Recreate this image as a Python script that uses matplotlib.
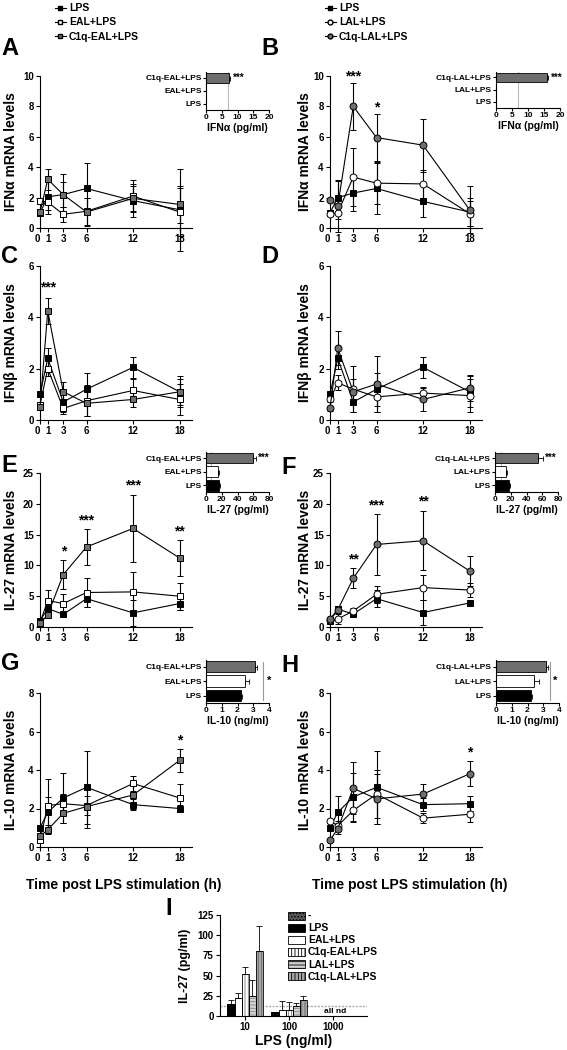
"""Time courses of IFN/IL-27/IL-10 mRNA after LPS, with cytokine insets."""

import numpy as np
import matplotlib.pyplot as plt
from matplotlib.lines import Line2D
from matplotlib.patches import Patch
from matplotlib.transforms import ScaledTranslation

plt.rcParams['font.family'] = ['Liberation Sans', 'DejaVu Sans']
plt.rcParams['font.weight'] = 'bold'
plt.rcParams['axes.labelweight'] = 'bold'
plt.rcParams['hatch.linewidth'] = 0.6
plt.rcParams['axes.linewidth'] = 0.8

W, H = 567, 1050
GREY = '#6e6e6e'

hours = [0, 1, 3, 6, 12, 18]

# panel A / B : IFNa mRNA
a_lps = [1.0, 2.05, 2.2, 2.6, 1.8, 1.2]
a_lps_err = [0.2, 1.1, 1.35, 1.65, 1.1, 2.7]
a_eal = [1.8, 1.7, 0.9, 1.1, 2.1, 1.05]
a_eal_err = [0.2, 0.5, 0.5, 0.9, 1.05, 1.6]
a_c1q = [1.05, 3.2, 2.2, 1.05, 1.95, 1.55]
a_c1q_err = [0.2, 0.7, 0.8, 0.9, 0.8, 1.2]

b_lps = [1.0, 2.0, 2.3, 2.6, 1.75, 1.05]
b_lps_err = [0.1, 1.1, 1.2, 1.65, 1.05, 0.9]
b_lal = [0.9, 1.0, 3.35, 2.95, 2.9, 0.95]
b_lal_err = [0.1, 0.4, 1.9, 1.4, 0.9, 0.8]
b_c1q = [1.85, 1.45, 8.0, 5.95, 5.45, 1.2]
b_c1q_err = [0.1, 1.7, 1.55, 1.55, 1.75, 1.55]

# panel C / D : IFNb mRNA
c_lps = [1.0, 2.4, 0.7, 1.2, 2.05, 1.1]
c_lps_err = [0.1, 0.4, 0.4, 0.65, 0.4, 0.6]
c_eal = [0.6, 2.0, 0.45, 0.75, 1.15, 0.8]
c_eal_err = [0.1, 0.3, 0.2, 0.6, 0.45, 0.6]
c_c1q = [0.5, 4.25, 1.1, 0.65, 0.8, 1.1]
c_c1q_err = [0.1, 0.5, 0.4, 0.5, 0.3, 0.5]

d_lps = [1.0, 2.4, 0.7, 1.2, 2.05, 1.1]
d_lps_err = [0.1, 0.4, 0.4, 0.65, 0.4, 0.6]
d_lal = [0.8, 1.45, 1.2, 0.9, 1.05, 0.95]
d_lal_err = [0.1, 0.3, 0.9, 0.6, 0.25, 0.65]
d_c1q = [0.45, 2.8, 1.1, 1.4, 0.8, 1.25]
d_c1q_err = [0.1, 0.65, 0.5, 1.1, 0.45, 0.5]

# panel E / F : IL-27 mRNA
e_lps = [1.0, 3.0, 2.05, 4.6, 2.3, 3.8]
e_lps_err = [0.2, 0.5, 0.3, 1.4, 2.1, 1.0]
e_eal = [0.7, 4.3, 3.8, 5.6, 5.7, 5.0]
e_eal_err = [0.2, 1.7, 1.5, 2.3, 3.3, 2.2]
e_c1q = [0.6, 2.0, 8.5, 13.0, 16.0, 11.2]
e_c1q_err = [0.2, 0.4, 2.4, 2.9, 5.5, 2.9]

f_lps = [1.0, 2.9, 2.1, 4.6, 2.35, 3.9]
f_lps_err = [0.2, 0.5, 0.3, 1.4, 2.1, 0.3]
f_lal = [1.1, 1.3, 2.6, 5.3, 6.4, 6.0]
f_lal_err = [0.2, 0.8, 0.5, 1.4, 2.0, 1.1]
f_c1q = [1.3, 2.8, 7.9, 13.4, 14.0, 9.1]
f_c1q_err = [0.2, 0.5, 1.6, 4.9, 4.8, 2.5]

# panel G / H : IL-10 mRNA
g_lps = [1.0, 1.8, 2.55, 3.1, 2.2, 2.0]
g_lps_err = [0.1, 0.8, 1.3, 1.9, 0.3, 0.2]
g_eal = [0.35, 2.15, 2.25, 2.15, 3.3, 2.55]
g_eal_err = [0.1, 1.4, 0.5, 0.5, 0.4, 0.7]
g_c1q = [0.55, 0.9, 1.75, 2.1, 2.7, 4.5]
g_c1q_err = [0.1, 0.25, 0.5, 1.1, 0.7, 0.6]

h_lps = [1.0, 1.8, 2.6, 3.1, 2.2, 2.25]
h_lps_err = [0.1, 0.85, 1.25, 1.9, 0.35, 0.4]
h_lal = [1.35, 1.1, 1.9, 2.75, 1.5, 1.7]
h_lal_err = [0.1, 0.25, 0.6, 1.25, 0.25, 0.4]
h_c1q = [0.35, 0.95, 3.05, 2.5, 2.75, 3.8]
h_c1q_err = [0.1, 0.3, 1.35, 1.3, 0.5, 0.65]

# insets: rows LPS, X+LPS, C1q-X+LPS (bottom to top)
eal_rows = ['LPS', 'EAL+LPS', 'C1q-EAL+LPS']
lal_rows = ['LPS', 'LAL+LPS', 'C1q-LAL+LPS']
ifna_eal_prot = [0, 0, 7.3]
ifna_eal_prot_err = [0, 0, 0.3]
ifna_lal_prot = [0, 0, 15.8]
ifna_lal_prot_err = [0, 0, 0.3]
il27_eal_prot = [17, 15, 60]
il27_eal_prot_err = [1, 1.5, 3]
il27_lal_prot = [18, 14, 54]
il27_lal_prot_err = [1, 1, 7]
il10_eal_prot = [2.2, 2.5, 3.1]
il10_eal_prot_err = [0.1, 0.25, 0.15]
il10_lal_prot = [2.2, 2.4, 3.15]
il10_lal_prot_err = [0.1, 0.35, 0.15]

# panel I : IL-27 protein by LPS dose
doses = ['10', '100', '1000']
i_groups = ['LPS', 'EAL+LPS', 'C1q-EAL+LPS', 'LAL+LPS', 'C1q-LAL+LPS']
i_lps = [15, 5, np.nan]
i_lps_err = [5, 0, np.nan]
i_eal = [22.5, 8, np.nan]
i_eal_err = [6, 10, np.nan]
i_c1q_eal = [52, 8, np.nan]
i_c1q_eal_err = [9, 9.5, np.nan]
i_lal = [24.5, 12, np.nan]
i_lal_err = [19.5, 4, np.nan]
i_c1q_lal = [81, 19.5, np.nan]
i_c1q_lal_err = [30.5, 5, np.nan]
detection_limit = 11.8


def rect(l, r, t, b):
    return [l / W, 1 - b / H, (r - l) / W, (b - t) / H]


def style(ax):
    for s in ('top', 'right'):
        ax.spines[s].set_visible(False)
    ax.tick_params(length=3, width=0.8, labelsize=7, pad=1.5)


fig = plt.figure(figsize=(W / 100, H / 100), dpi=100)


def course(box, series, ylim, yticks, ylabel, stars, lab_x):
    ax = fig.add_axes(rect(*box))
    style(ax)
    for vals, errs, marker, face in series:
        ax.errorbar(hours, vals, yerr=errs, color='black', lw=0.8, marker=marker,
                    mfc=face, mec='black', ms=5, mew=0.7, capsize=2.2,
                    elinewidth=0.8, capthick=0.8, clip_on=False, zorder=3)
    ax.set_xlim(0, 19.6)
    ax.set_ylim(*ylim)
    ax.set_yticks(yticks)
    ax.set_xticks(hours)
    ax.set_xticklabels([str(h) for h in hours])
    lbl = ax.get_xticklabels()[0]
    lbl.set_transform(lbl.get_transform() + ScaledTranslation(-2 / 72, 0, fig.dpi_scale_trans))
    ax.set_ylabel(ylabel, fontsize=10)
    ax.yaxis.set_label_coords(lab_x, 0.5)
    for x, y, t in stars:
        ax.text(x, y, t, ha='center', va='center', fontsize=10, clip_on=False)
    return ax


def inset(box, rows, vals, errs, colors, xmax, xticks, xlabel, vline=None, star=None, bracket=None):
    ax = fig.add_axes(rect(*box))
    style(ax)
    ax.tick_params(labelsize=6, length=2, pad=1)
    y = np.arange(len(rows))
    if vline is not None:
        ax.axvline(vline, color='#bbbbbb', lw=0.8, zorder=0)
    ax.barh(y, vals, height=0.78, color=colors, edgecolor='black', lw=0.6, zorder=2)
    ax.errorbar(vals, y, xerr=[np.zeros(len(vals)), errs], fmt='none', ecolor='black',
                elinewidth=0.6, capsize=1.8, capthick=0.6, zorder=3)
    ax.set_yticks(y)
    ax.set_yticklabels(rows)
    ax.set_ylim(-0.5, 2.45)
    ax.set_xlim(0, xmax)
    ax.set_xticks(xticks)
    ax.set_xlabel(xlabel, fontsize=7.5, labelpad=1)
    if star is not None:
        ax.text(star[0], star[1], star[2], ha='left', va='center', fontsize=7, clip_on=False)
    if bracket is not None:
        ax.plot([bracket, bracket], [-0.3, 2.3], color='#999999', lw=0.8, clip_on=False)
        ax.text(bracket + 0.25, 1, '*', ha='left', va='center', fontsize=8, clip_on=False)
    return ax


inset_cols = ['black', 'white', GREY]
lc, rc = (40, 192), (330, 482)
lx, rx = -0.145, -0.12

course((*lc, 76, 228), [(a_lps, a_lps_err, 's', 'black'), (a_eal, a_eal_err, 's', 'white'),
                        (a_c1q, a_c1q_err, 's', GREY)],
       (0, 10), [0, 2, 4, 6, 8, 10], 'IFN\u03b1 mRNA levels', [], lx)
course((*rc, 76, 228), [(b_lps, b_lps_err, 's', 'black'), (b_lal, b_lal_err, 'o', 'white'),
                        (b_c1q, b_c1q_err, 'o', GREY)],
       (0, 10), [0, 2, 4, 6, 8, 10], 'IFN\u03b1 mRNA levels',
       [(3, 10.0, '***'), (6, 7.95, '*')], rx)
course((*lc, 266, 420), [(c_lps, c_lps_err, 's', 'black'), (c_eal, c_eal_err, 's', 'white'),
                         (c_c1q, c_c1q_err, 's', GREY)],
       (0, 6), [0, 2, 4, 6], 'IFN\u03b2 mRNA levels', [(1, 5.15, '***')], lx)
course((*rc, 266, 420), [(d_lps, d_lps_err, 's', 'black'), (d_lal, d_lal_err, 'o', 'white'),
                         (d_c1q, d_c1q_err, 'o', GREY)],
       (0, 6), [0, 2, 4, 6], 'IFN\u03b2 mRNA levels', [], rx)
course((*lc, 473, 627), [(e_lps, e_lps_err, 's', 'black'), (e_eal, e_eal_err, 's', 'white'),
                         (e_c1q, e_c1q_err, 's', GREY)],
       (0, 25), [0, 5, 10, 15, 20, 25], 'IL-27 mRNA levels',
       [(3, 12.3, '*'), (6, 17.3, '***'), (12, 23.0, '***'), (18, 15.5, '**')], lx)
course((*rc, 473, 627), [(f_lps, f_lps_err, 's', 'black'), (f_lal, f_lal_err, 'o', 'white'),
                         (f_c1q, f_c1q_err, 'o', GREY)],
       (0, 25), [0, 5, 10, 15, 20, 25], 'IL-27 mRNA levels',
       [(3, 10.9, '**'), (6, 19.8, '***'), (12, 20.3, '**')], rx)
course((*lc, 693, 847), [(g_lps, g_lps_err, 's', 'black'), (g_eal, g_eal_err, 's', 'white'),
                         (g_c1q, g_c1q_err, 's', GREY)],
       (0, 8), [0, 2, 4, 6, 8], 'IL-10 mRNA levels', [(18, 5.55, '*')], lx)
course((*rc, 693, 847), [(h_lps, h_lps_err, 's', 'black'), (h_lal, h_lal_err, 'o', 'white'),
                         (h_c1q, h_c1q_err, 'o', GREY)],
       (0, 8), [0, 2, 4, 6, 8], 'IL-10 mRNA levels', [(18, 4.9, '*')], rx)

inset((206, 269, 72, 110), eal_rows, ifna_eal_prot, ifna_eal_prot_err, inset_cols, 20,
      [0, 5, 10, 15, 20], 'IFN\u03b1 (pg/ml)', vline=7, star=(8.6, 2, '***'))
inset((496, 560, 72, 108), lal_rows, ifna_lal_prot, ifna_lal_prot_err, inset_cols, 20,
      [0, 5, 10, 15, 20], 'IFN\u03b1 (pg/ml)', vline=7, star=(17.2, 2, '***'))
inset((206, 269, 452, 492), eal_rows, il27_eal_prot, il27_eal_prot_err, inset_cols, 80,
      [0, 20, 40, 60, 80], 'IL-27 (pg/ml)', vline=6, star=(66, 2, '***'))
inset((495, 558, 452, 492), lal_rows, il27_lal_prot, il27_lal_prot_err, inset_cols, 80,
      [0, 20, 40, 60, 80], 'IL-27 (pg/ml)', vline=8, star=(64, 2, '***'))
inset((206, 269, 660, 703), eal_rows, il10_eal_prot, il10_eal_prot_err, inset_cols, 4,
      [0, 1, 2, 3, 4], 'IL-10 (ng/ml)', bracket=3.6)
inset((496, 559, 660, 703), lal_rows, il10_lal_prot, il10_lal_prot_err, inset_cols, 4,
      [0, 1, 2, 3, 4], 'IL-10 (ng/ml)', bracket=3.4)

fig.text(124 / W, 1 - 885 / H, 'Time post LPS stimulation (h)', ha='center', va='center', fontsize=10)
fig.text(410 / W, 1 - 885 / H, 'Time post LPS stimulation (h)', ha='center', va='center', fontsize=10)

# panel letters
for letter, x, y in [('A', 1, 55), ('B', 261, 55), ('C', 1, 263), ('D', 261, 263),
                     ('E', 1, 472), ('F', 281, 474), ('G', 1, 670), ('H', 281, 672),
                     ('I', 165, 915)]:
    fig.text(x / W, 1 - y / H, letter, fontsize=17, ha='left', va='baseline')


# top legends
def legend_handles(marker_b):
    return [Line2D([], [], color='black', lw=0.8, marker='s', ms=3.5, mfc='black', mec='black'),
            Line2D([], [], color='black', lw=0.8, marker=marker_b, ms=3.5, mfc='white', mec='black'),
            Line2D([], [], color='black', lw=0.8, marker=marker_b, ms=3.5, mfc=GREY, mec='black')]


fig.legend(legend_handles('s'), ['LPS', 'EAL+LPS', 'C1q-EAL+LPS'], loc='upper left',
           bbox_to_anchor=(50 / W, 1 - (-2) / H), frameon=False, fontsize=7.5,
           handlelength=1.0, handletextpad=0.3, labelspacing=0.4, borderpad=0)
fig.legend(legend_handles('o'), ['LPS', 'LAL+LPS', 'C1q-LAL+LPS'], loc='upper left',
           bbox_to_anchor=(320 / W, 1 - (-2) / H), frameon=False, fontsize=7.5,
           handlelength=1.0, handletextpad=0.3, labelspacing=0.4, borderpad=0)

# panel I
axi = fig.add_axes(rect(220, 367, 915, 1016))
style(axi)
xpos = np.arange(len(doses))
width = 0.16
bar_specs = [
    (i_lps, i_lps_err, 'black', None, 'black'),
    (i_eal, i_eal_err, 'white', None, 'black'),
    (i_c1q_eal, i_c1q_eal_err, 'white', '|||||', '#777777'),
    (i_lal, i_lal_err, '#d0d0d0', '-----', '#888888'),
    (i_c1q_lal, i_c1q_lal_err, '#a8a8a8', '|||||', '#666666'),
]
axi.axhline(detection_limit, color='#aaaaaa', lw=1.0, ls=(0, (1.5, 1)), zorder=0)
for k, (vals, errs, fc, hatch, hc) in enumerate(bar_specs):
    xs = xpos + (k - 2) * width
    axi.bar(xs, vals, width=width, color=fc, edgecolor=hc, hatch=hatch, lw=0, zorder=2)
    axi.bar(xs, vals, width=width, color='none', edgecolor='black', lw=0.6, zorder=3)
    axi.errorbar(xs, vals, yerr=[np.zeros(len(vals)), errs], fmt='none', ecolor='black',
                 elinewidth=0.6, capsize=2, capthick=0.6, zorder=4)
axi.text(xpos[2] + 0.05, 5, 'all nd', ha='center', va='center', fontsize=6)
axi.set_xlim(-0.57, 2.77)
axi.set_ylim(0, 125)
axi.set_yticks([0, 25, 50, 75, 100, 125])
axi.set_xticks(xpos)
axi.set_xticklabels(doses)
axi.set_ylabel('IL-27 (pg/ml)', fontsize=9)
axi.yaxis.set_label_coords(-0.2, 0.5)
axi.set_xlabel('LPS (ng/ml)', fontsize=10, labelpad=1)

i_handles = [Patch(facecolor='#555555', edgecolor='black', hatch='.....', lw=0.6)]
for vals, errs, fc, hatch, hc in bar_specs:
    i_handles.append(Patch(facecolor=fc, edgecolor='black', hatch=hatch, lw=0.6))
fig.legend(i_handles, ['-'] + i_groups, loc='upper left', bbox_to_anchor=(283 / W, 1 - 906 / H),
           frameon=False, fontsize=7.5, handlelength=1.6, handleheight=0.8,
           handletextpad=0.3, labelspacing=0.2, borderpad=0)

fig.savefig('out.png', dpi=100)
